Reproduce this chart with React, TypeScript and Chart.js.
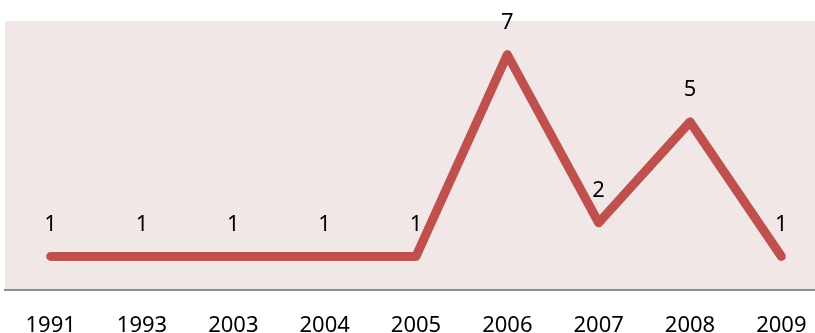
import React, { useEffect, useRef } from "react";
import { Chart, registerables } from "chart.js";

Chart.register(...registerables);

const years = ["1991", "1993", "2003", "2004", "2005", "2006", "2007", "2008", "2009"];
const counts = [1, 1, 1, 1, 1, 7, 2, 5, 1];

const FONT = "'Noto Sans', 'Open Sans', sans-serif";
const LINE_COLOR = "#C0504D";
const PLOT_BG = "#F2E7E7";

// Pink fill behind the plot area
const plotBackground = {
  id: "plotBackground",
  beforeDraw(chart: any) {
    const { ctx, chartArea } = chart;
    ctx.save();
    ctx.fillStyle = PLOT_BG;
    ctx.fillRect(chartArea.left, chartArea.top, chartArea.right - chartArea.left, chartArea.bottom - chartArea.top);
    ctx.restore();
  },
};

// Value written above each point
const pointValues = {
  id: "pointValues",
  afterDatasetsDraw(chart: any) {
    const { ctx } = chart;
    const meta = chart.getDatasetMeta(0);
    const data = chart.data.datasets[0].data;
    ctx.save();
    ctx.font = `22px ${FONT}`;
    ctx.fillStyle = "#000";
    ctx.textAlign = "center";
    ctx.textBaseline = "alphabetic";
    meta.data.forEach((pt: any, i: number) => {
      ctx.fillText(String(data[i]), pt.x, pt.y - 25.5);
    });
    ctx.restore();
  },
};

export default function App() {
  const canvasRef = useRef<HTMLCanvasElement | null>(null);

  useEffect(() => {
    const canvas = canvasRef.current;
    if (!canvas) return;
    const chart = new Chart(canvas, {
      type: "line",
      data: {
        labels: years,
        datasets: [
          {
            data: counts,
            borderColor: LINE_COLOR,
            borderWidth: 9,
            borderCapStyle: "round",
            borderJoinStyle: "round",
            pointRadius: 0,
            pointHoverRadius: 0,
            tension: 0,
            fill: false,
            clip: false as any,
          },
        ],
      },
      options: {
        animation: false,
        responsive: false,
        devicePixelRatio: 1,
        layout: { padding: { left: 5, right: 5, top: 21, bottom: 0 } },
        plugins: { legend: { display: false }, tooltip: { enabled: false } },
        scales: {
          x: {
            offset: true,
            grid: { display: false, drawTicks: false },
            border: { display: true, color: "#8C8C8C", width: 2 },
            ticks: {
              color: "#000",
              font: { family: FONT, size: 22 },
              padding: 23,
              maxRotation: 0,
              autoSkip: false,
            },
            afterFit(scale: any) {
              scale.height = 43;
            },
          },
          y: {
            display: false,
            min: 0,
            max: 8,
          },
        },
      },
      plugins: [plotBackground, pointValues],
    });
    return () => chart.destroy();
  }, []);

  return (
    <div style={{ position: "fixed", left: 0, top: 0, width: 815, height: 333, overflow: "hidden", background: "#fff" }}>
      <canvas ref={canvasRef} width={832} height={333} style={{ display: "block", width: 832, height: 333 }} />
    </div>
  );
}
